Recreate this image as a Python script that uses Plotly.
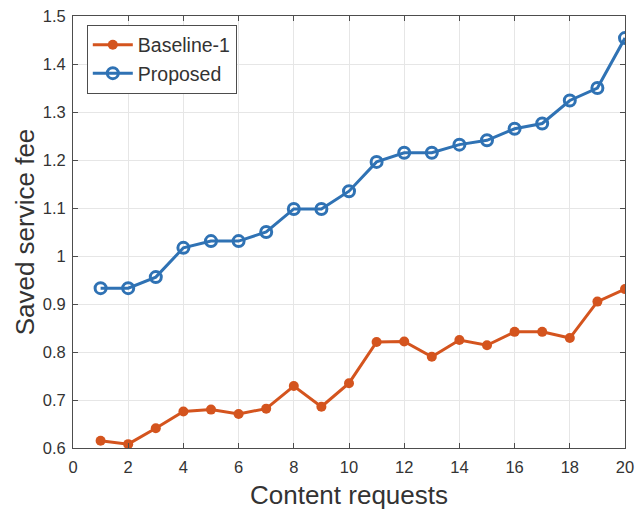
import plotly.graph_objects as go

# Number of content requests on the x axis
requests = list(range(1, 21))

# Saved service fee per scheme
baseline_1 = [0.615, 0.608, 0.641, 0.676, 0.680, 0.671, 0.682, 0.729, 0.686, 0.735,
              0.821, 0.822, 0.790, 0.825, 0.814, 0.842, 0.842, 0.829, 0.905, 0.931]
proposed = [0.933, 0.933, 0.956, 1.017, 1.031, 1.031, 1.050, 1.098, 1.098, 1.135,
            1.196, 1.215, 1.215, 1.232, 1.241, 1.265, 1.276, 1.324, 1.350, 1.454]

x_ticks = list(range(0, 21, 2))
y_ticks = [0.6, 0.7, 0.8, 0.9, 1.0, 1.1, 1.2, 1.3, 1.4, 1.5]
y_tick_text = ["0.6", "0.7", "0.8", "0.9", "1", "1.1", "1.2", "1.3", "1.4", "1.5"]

RED = "#D4541E"
BLUE = "#2F72B4"
TEXT = "#333333"
FONT = "Liberation Sans, Arial, sans-serif"

fig = go.Figure()
fig.add_trace(go.Scatter(
    x=requests, y=baseline_1, name="Baseline-1", mode="lines+markers",
    line=dict(color=RED, width=3),
    marker=dict(symbol="circle", size=10, color=RED),
))
fig.add_trace(go.Scatter(
    x=requests, y=proposed, name="Proposed", mode="lines+markers",
    line=dict(color=BLUE, width=3),
    marker=dict(symbol="circle-open", size=11, color=BLUE, line=dict(width=3, color=BLUE)),
))

axis_common = dict(
    showline=True, linecolor="#4D4D4D", linewidth=1, mirror="ticks",
    ticks="inside", ticklen=5, tickcolor="#4D4D4D",
    showgrid=True, gridcolor="#E6E6E6", gridwidth=1,
    zeroline=False, automargin=False,
    tickfont=dict(family=FONT, size=16.5, color=TEXT),
)

fig.update_layout(
    width=642, height=511,
    margin=dict(l=73, r=17, t=16, b=63),
    paper_bgcolor="white", plot_bgcolor="white",
    font=dict(family=FONT, color=TEXT),
    xaxis=dict(
        range=[0, 20], tickvals=x_ticks, ticklabelstandoff=4,
        title=dict(text="Content requests", font=dict(family=FONT, size=26, color=TEXT), standoff=11),
        **axis_common,
    ),
    yaxis=dict(
        range=[0.6, 1.5], tickvals=y_ticks, ticktext=y_tick_text, ticklabelstandoff=3,
        title=dict(text="Saved service fee", font=dict(family=FONT, size=26, color=TEXT), standoff=0),
        **axis_common,
    ),
    legend=dict(
        x=0.025, y=0.98, xanchor="left", yanchor="top",
        bgcolor="white", bordercolor="#4D4D4D", borderwidth=1,
        font=dict(family=FONT, size=19.5, color=TEXT),
        itemwidth=40, tracegroupgap=0,
    ),
    showlegend=True,
)

fig.write_html("out.html")
